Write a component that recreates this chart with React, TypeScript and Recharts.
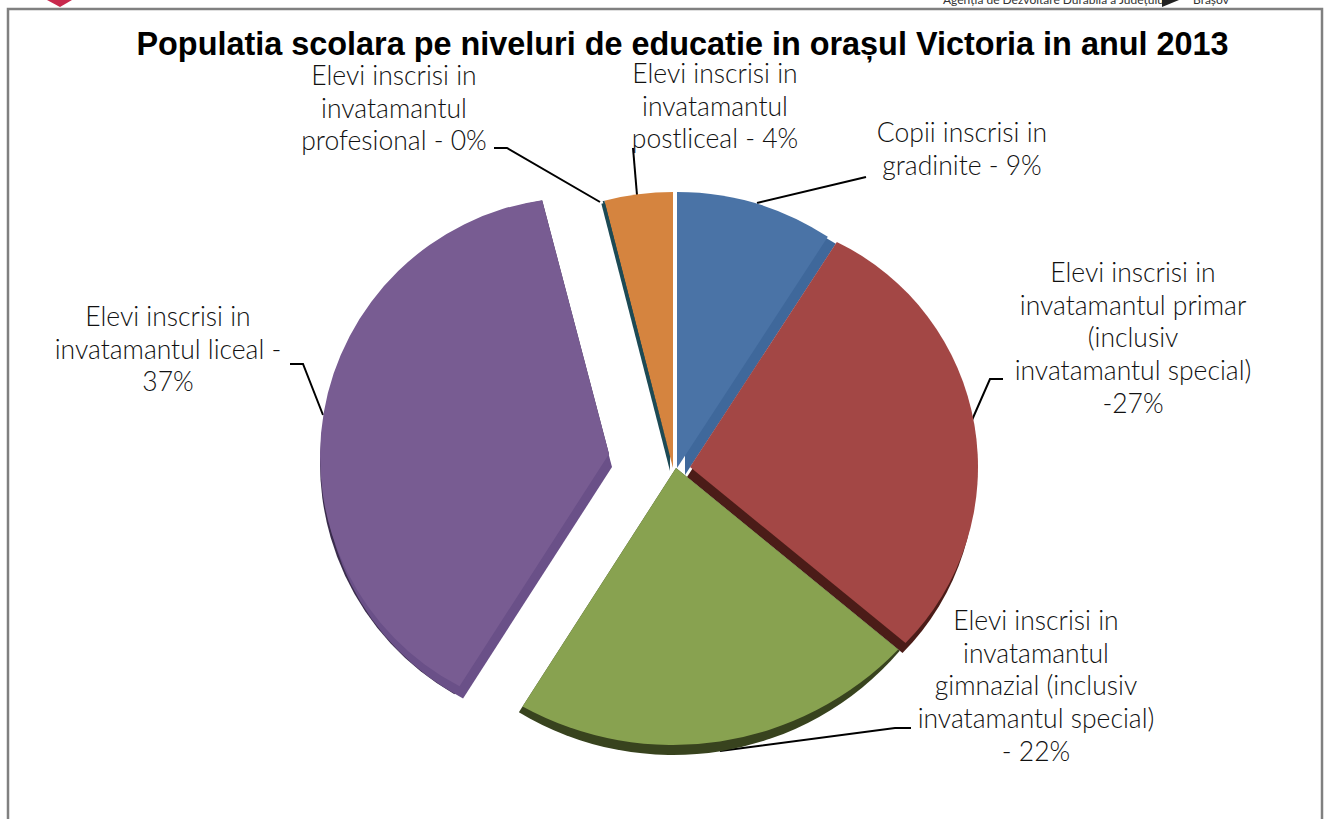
import { PieChart, Pie } from 'recharts'

const categories = [
  'Copii inscrisi in gradinite',
  'Elevi inscrisi in invatamantul primar',
  'Elevi inscrisi in invatamantul gimnazial',
  'Elevi inscrisi in invatamantul liceal',
  'Elevi inscrisi in invatamantul profesional',
  'Elevi inscrisi in invatamantul postliceal',
]
const shares = [9.2, 26.7, 23.2, 36.8, 0.1, 4.0]

const rows = categories.map((name, i) => ({ name, value: shares[i] }))

const title = 'Populatia scolara pe niveluri de educatie in orașul Victoria in anul 2013'

const labelLines = [
  ['Copii inscrisi in', 'gradinite - 9%'],
  ['Elevi inscrisi in', 'invatamantul primar', '(inclusiv', 'invatamantul special)', '-27%'],
  ['Elevi inscrisi in', 'invatamantul', 'gimnazial (inclusiv', 'invatamantul special)', '- 22%'],
  ['Elevi inscrisi in', 'invatamantul liceal -', '37%'],
  ['Elevi inscrisi in', 'invatamantul', 'profesional - 0%'],
  ['Elevi inscrisi in', 'invatamantul', 'postliceal - 4%'],
]

const labelPlaces = [
  { x: 962, y: 142, leader: '866,177 757,203' },
  { x: 1133, y: 282, leader: '1003,379 990,379 972,420' },
  { x: 1036, y: 630, leader: '911,728 895,728 720,751' },
  { x: 168, y: 326, leader: '290,364 303,364 323,415' },
  { x: 394, y: 85, leader: '494,148 507,148 600,202' },
  { x: 715, y: 83, leader: '633,148 637,195' },
]

// the picture is a tilted 3D pie, so the rim of a slice is not centred on its tip
const sliceLooks: any[] = [
  { tip: [677, 468], arc: [677, 468], r: 276, color: '#4a73a6', depth: [{ dx: 8, dy: 7, color: '#3f689b' }] },
  { tip: [690, 467], arc: [728, 467], r: 250, color: '#a34745', depth: [{ dx: -3, dy: 10, color: '#4b1c18' }] },
  {
    tip: [676, 468], arc: [673, 432], r: 313, color: '#88a250',
    depth: [{ dx: 0, dy: 0, arc: [673, 456], r: 299, color: '#38431e' }],
  },
  {
    tip: [609, 454], arc: [579, 456.5], r: 259, color: '#785c92',
    depth: [
      { dx: 0, dy: 0, arc: [586, 463], r: 266, color: '#3a2c4c' },
      { dx: 3, dy: 13, r: 258, color: '#6a5088' },
    ],
  },
  { tip: [673, 468], arc: [673, 468], r: 276, color: '#1d4a55', depth: [] },
  { tip: [673, 468], arc: [673, 468], r: 276, color: '#d5843f', depth: [{ dx: -3, dy: 3, color: '#1d4a55' }] },
]

const drawOrder = [3, 5, 4, 0, 1, 2]

const rimPoint = (tip: number[], arc: number[], r: number, deg: number) => {
  const a = (deg * Math.PI) / 180
  const ux = Math.cos(a)
  const uy = -Math.sin(a)
  const fx = tip[0] - arc[0]
  const fy = tip[1] - arc[1]
  const b = ux * fx + uy * fy
  const t = -b + Math.sqrt(b * b - (fx * fx + fy * fy - r * r))
  return [tip[0] + ux * t, tip[1] + uy * t]
}

function sliceShape(which: number, layer: any) {
  return (props: any) => {
    if (props.index !== which) return <g />
    const look = sliceLooks[which]
    const tip = [props.cx, props.cy]
    const arc = layer.arc || look.arc
    const r = layer.r || look.r
    const p1 = rimPoint(tip, arc, r, props.startAngle)
    const p2 = rimPoint(tip, arc, r, props.endAngle)
    return (
      <path
        transform={`translate(${layer.dx},${layer.dy})`}
        d={`M${tip[0]},${tip[1]} L${p1[0]},${p1[1]} A${r},${r} 0 0 1 ${p2[0]},${p2[1]} Z`}
        fill={layer.color}
        stroke="none"
      />
    )
  }
}

const labelFont = 'Lato, sans-serif'

export default function App() {
  const pies: any[] = []
  drawOrder.forEach((i) => {
    const look = sliceLooks[i]
    const layers = [...look.depth, { dx: 0, dy: 0, color: look.color }]
    layers.forEach((layer: any, k: number) => {
      pies.push(
        <Pie
          key={`${i}-${k}`}
          data={rows}
          dataKey="value"
          nameKey="name"
          cx={look.tip[0]}
          cy={look.tip[1]}
          outerRadius={look.r}
          startAngle={90}
          endAngle={-270}
          stroke="none"
          isAnimationActive={false}
          shape={sliceShape(i, layer)}
        />
      )
    })
  })

  return (
    <div style={{ position: 'fixed', left: 0, top: 0, width: 1328, height: 819, background: '#fff', overflow: 'hidden' }}>
      <PieChart width={1328} height={819} margin={{ top: 0, right: 0, bottom: 0, left: 0 }}>
        <rect x={8} y={9} width={1314} height={830} fill="#fff" stroke="#808080" strokeWidth={2.5} />
        <polygon points="47,0 72,0 60,7" fill="#c8284c" />
        <text x={943} y={4} fontFamily={labelFont} fontSize={12} fill="#333">Agenția de Dezvoltare Durabilă a Județului</text>
        <polygon points="1162,0 1179,0 1162,7" fill="#222" />
        <text x={1193} y={4} fontFamily={labelFont} fontSize={12} fill="#333">Brașov</text>
        <text
          x={682.5}
          y={55}
          textAnchor="middle"
          fontFamily="'Liberation Sans', Arial, sans-serif"
          fontWeight="bold"
          fontSize={32.4}
          fill="#000"
        >
          {title}
        </text>
        {pies}
        {labelPlaces.map((place, i) => (
          <g key={categories[i]}>
            <polyline points={place.leader} fill="none" stroke="#000" strokeWidth={2} />
            {labelLines[i].map((line, k) => (
              <text
                key={k}
                x={place.x}
                y={place.y + k * 32.7}
                textAnchor="middle"
                fontFamily={labelFont}
                fontWeight={300}
                fontSize={26.5}
                fill="#111"
              >
                {line}
              </text>
            ))}
          </g>
        ))}
      </PieChart>
    </div>
  )
}
